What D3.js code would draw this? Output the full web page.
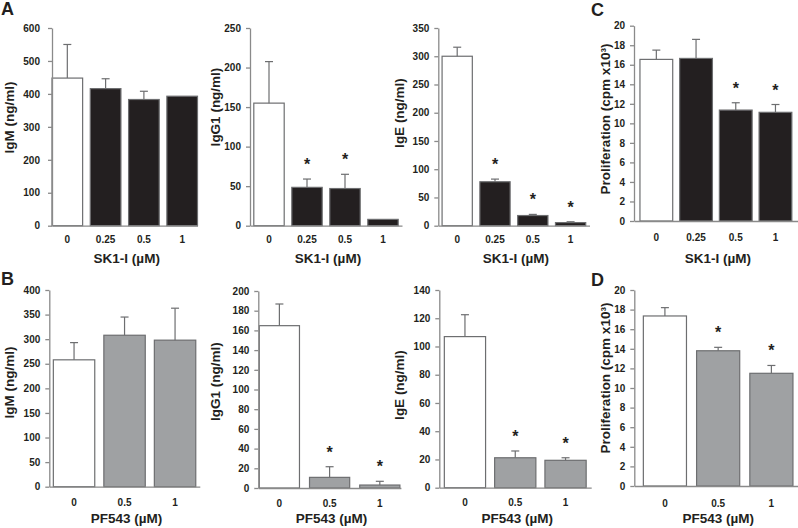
<!DOCTYPE html>
<html><head><meta charset="utf-8">
<script src="https://cdn.jsdelivr.net/npm/d3@7"></script>
<style>
html,body{margin:0;padding:0;background:#fff;}
svg{display:block;font-family:"Liberation Sans",Arial,sans-serif;}
</style></head>
<body>
<svg id="c" width="798" height="528"></svg>
<script>
// ---- data ----
const dosesSK = ["0","0.25","0.5","1"];
const dosesPF = ["0","0.5","1"];

const igmSK  = [448, 416, 383, 393];
const igmSKe = [102, 30, 25, 0];
const igmSKs = [false,false,false,false];

const igg1SK  = [155, 48.5, 47, 8];
const igg1SKe = [52.5, 10.5, 18, 0];
const igg1SKs = [false,true,true,false];

const igeSK  = [300, 77.8, 18, 5.5];
const igeSKe = [16, 4.7, 2, 1.5];
const igeSKs = [false,true,true,true];

const proSK  = [16.55, 16.65, 11.36, 11.13];
const proSKe = [0.95, 1.95, 0.75, 0.8];
const proSKs = [false,false,true,true];

const igmPF  = [258, 308, 298];
const igmPFe = [35, 37, 65];
const igmPFs = [false,false,false];

const igg1PF  = [164.8, 10.8, 3];
const igg1PFe = [22, 10.8, 3.8];
const igg1PFs = [false,true,true];

const igePF  = [107, 21.2, 19.4];
const igePFe = [15.5, 4.8, 1.8];
const igePFs = [false,true,true];

const proPF  = [17.35, 13.8, 11.5];
const proPFe = [0.85, 0.35, 0.8];
const proPFs = [false,true,true];

const yMaxes = {igmSK:600, igg1SK:250, igeSK:350, proSK:20, igmPF:400, igg1PF:200, igePF:140, proPF:20};
const ySteps = {igmSK:100, igg1SK:50, igeSK:50, proSK:2, igmPF:50, igg1PF:20, igePF:20, proPF:2};

const xTitleSK = "SK1-I (\u00B5M)";
const xTitlePF = "PF543 (\u00B5M)";
const panelLetters = ["A","C","B","D"];

// ---- layout ----
const axisCol = "#8a8a8a", textCol = "#231f20";
const darkFill = "#231f20", grayFill = "#9fa1a3";

const panels = [
 {k:"igmSK", m:igmSK, e:igmSKe, s:igmSKs, d:dosesSK, yl:"IgM (ng/ml)", xl:xTitleSK, fill:darkFill,
  x0:52, x1:197.5, yT:28, yB:225.7, pI:0.2, pO:0.0, lx:9, ly:117.5, tx:240, xt:263, tp:8},
 {k:"igg1SK", m:igg1SK, e:igg1SKe, s:igg1SKs, d:dosesSK, yl:"IgG1 (ng/ml)", xl:xTitleSK, fill:darkFill,
  x0:250, x1:402, yT:28, yB:225.7, pI:0.2, pO:0.1, lx:215, ly:107, tx:240, xt:263, tp:5},
 {k:"igeSK", m:igeSK, e:igeSKe, s:igeSKs, d:dosesSK, yl:"IgE (ng/ml)", xl:xTitleSK, fill:darkFill,
  x0:438.3, x1:589.5, yT:28, yB:225.7, pI:0.2, pO:0.1, lx:399, ly:113, tx:240, xt:263, tp:5},
 {k:"proSK", m:proSK, e:proSKe, s:proSKs, d:dosesSK, yl:"Proliferation (cpm x10\u00B3)", xl:xTitleSK, fill:darkFill,
  x0:634, x1:797.8, yT:25.7, yB:221, pI:0.175, pO:0.15, lx:605, ly:119, tx:237.5, xt:263, tp:5},
 {k:"igmPF", m:igmPF, e:igmPFe, s:igmPFs, d:dosesPF, yl:"IgM (ng/ml)", xl:xTitlePF, fill:grayFill,
  x0:49.3, x1:199.8, yT:290, yB:486.7, pI:0.18, pO:0.08, lx:9, ly:382.5, tx:503, xt:523, tp:5},
 {k:"igg1PF", m:igg1PF, e:igg1PFe, s:igg1PFs, d:dosesPF, yl:"IgG1 (ng/ml)", xl:xTitlePF, fill:grayFill,
  x0:258.3, x1:400.9, yT:291, yB:488, pI:0.2, pO:0.02, lx:215, ly:381.7, tx:503, xt:523, tp:5},
 {k:"igePF", m:igePF, e:igePFe, s:igePFs, d:dosesPF, yl:"IgE (ng/ml)", xl:xTitlePF, fill:grayFill,
  x0:439.3, x1:591.2, yT:290, yB:487.7, pI:0.18, pO:0.1, lx:399, ly:385, tx:503, xt:523, tp:5},
 {k:"proPF", m:proPF, e:proPFe, s:proPFs, d:dosesPF, yl:"Proliferation (cpm x10\u00B3)", xl:xTitlePF, fill:grayFill,
  x0:634.3, x1:802, yT:290, yB:486, pI:0.19, pO:0.17, lx:605, ly:378, tx:503, xt:523, tp:5}
];

const svg = d3.select("#c");

panels.forEach(p => {
  const g = svg.append("g");
  const x = d3.scaleBand().domain(p.d).range([p.x0, p.x1]).paddingInner(p.pI).paddingOuter(p.pO);
  const y = d3.scaleLinear().domain([0, yMaxes[p.k]]).range([p.yB, p.yT]);
  const rows = p.d.map((dd,i)=>({dose:dd, v:p.m[i], e:p.e[i], s:p.s[i], i}));

  // bars
  g.selectAll("rect.bar").data(rows).enter().append("rect")
    .attr("x", r=>x(r.dose)).attr("width", x.bandwidth())
    .attr("y", r=>y(r.v)).attr("height", r=>p.yB - y(r.v))
    .attr("fill", r=> r.i===0 ? "#ffffff" : p.fill)
    .attr("stroke", "#6d6e70").attr("stroke-width", 1.2);

  // error bars
  const eb = rows.filter(r=>r.e>0);
  g.selectAll("line.ev").data(eb).enter().append("line")
    .attr("x1", r=>x(r.dose)+x.bandwidth()/2).attr("x2", r=>x(r.dose)+x.bandwidth()/2)
    .attr("y1", r=>y(r.v)).attr("y2", r=>y(r.v+r.e))
    .attr("stroke", "#6d6e70").attr("stroke-width", 1.2);
  g.selectAll("line.ec").data(eb).enter().append("line")
    .attr("x1", r=>x(r.dose)+x.bandwidth()/2-4).attr("x2", r=>x(r.dose)+x.bandwidth()/2+4)
    .attr("y1", r=>y(r.v+r.e)).attr("y2", r=>y(r.v+r.e))
    .attr("stroke", "#6d6e70").attr("stroke-width", 1.2);

  // asterisks
  g.selectAll("text.ast").data(rows.filter(r=>r.s)).enter().append("text")
    .attr("x", r=>x(r.dose)+x.bandwidth()/2)
    .attr("y", r=>y(r.v+r.e) - 17 + 8)
    .attr("text-anchor","middle").attr("font-size",16).attr("font-weight","bold")
    .attr("fill", textCol).text("*");

  // y axis
  const ya = d3.axisLeft(y).tickValues(d3.range(0, yMaxes[p.k]+1e-9, ySteps[p.k]))
    .tickSize(4).tickSizeOuter(0).tickPadding(p.tp).tickFormat(d3.format("d"));
  const yg = g.append("g").attr("transform",`translate(${p.x0},0)`).call(ya);
  yg.selectAll("path,line").attr("stroke", axisCol).attr("stroke-width",1.3);
  yg.selectAll("text").attr("font-size",10).attr("font-weight","bold").attr("fill",textCol)
    .attr("font-family","'Liberation Sans',Arial,sans-serif");

  // x axis
  const xa = d3.axisBottom(x).tickSize(0).tickSizeOuter(0).tickPadding(0);
  const xg = g.append("g").attr("transform",`translate(0,${p.yB})`).call(xa);
  xg.select("path").attr("stroke", axisCol).attr("stroke-width",1.3);
  xg.selectAll("text").attr("font-size",10).attr("font-weight","bold").attr("fill",textCol)
    .attr("font-family","'Liberation Sans',Arial,sans-serif")
    .attr("y", p.tx - p.yB).attr("dy","0.35em");

  // titles
  g.append("text").attr("x", (p.x0 + Math.min(p.x1,798))/2 + 2).attr("y", p.xt)
    .attr("text-anchor","middle").attr("font-size",13.5).attr("font-weight","bold")
    .attr("fill",textCol).text(p.xl);
  g.append("text").attr("transform",`translate(${p.lx},${p.ly}) rotate(-90)`)
    .attr("dy","0.35em").attr("text-anchor","middle").attr("font-size",13.5).attr("font-weight","bold")
    .attr("fill",textCol).text(p.yl);
});

// panel letters
const letterPos = [[1,15],[591,16],[1,285],[591,286]];
svg.selectAll("text.letter").data(panelLetters).enter().append("text")
  .attr("x",(d,i)=>letterPos[i][0]).attr("y",(d,i)=>letterPos[i][1])
  .attr("font-size",18).attr("font-weight","bold").attr("fill",textCol).text(d=>d);
</script>
</body></html>
